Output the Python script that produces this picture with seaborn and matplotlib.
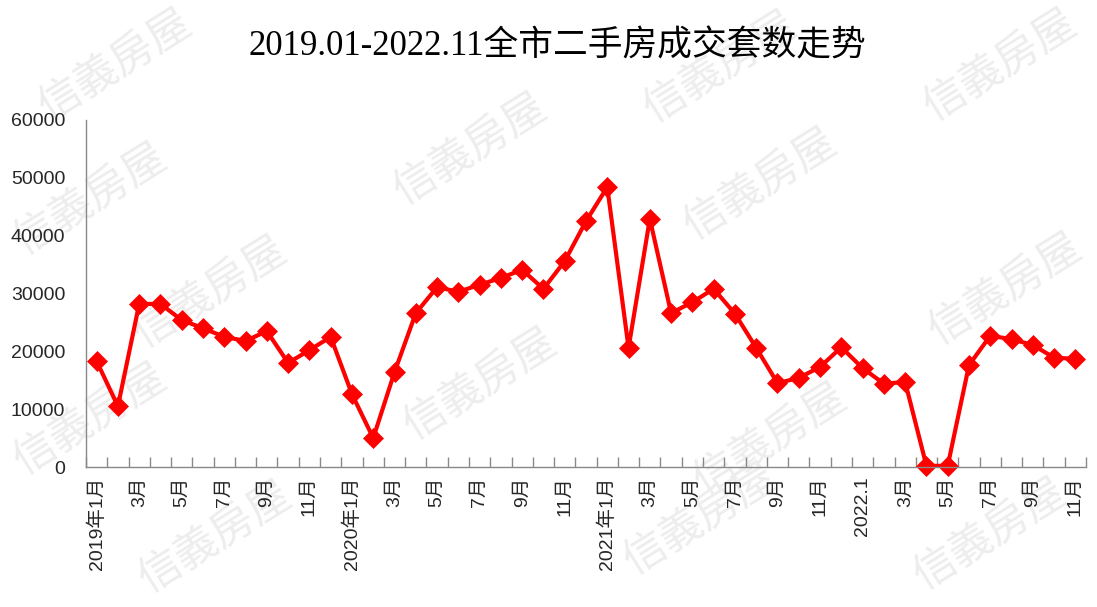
import numpy as np
import pandas as pd
import matplotlib
matplotlib.use("Agg")
import matplotlib.pyplot as plt
import seaborn as sns

# ---- data ----
months = [f"{y}-{m:02d}" for y in (2019, 2020, 2021, 2022) for m in range(1, 13)][:47]
volumes = [18300, 10500, 28200, 28200, 25400, 24000, 22500, 21800, 23500, 18000, 20200, 22500,
           12600, 5000, 16400, 26600, 31100, 30300, 31500, 32700, 34100, 30800, 35600, 42500,
           48400, 20600, 42900, 26600, 28500, 30800, 26500, 20600, 14500, 15400, 17300, 20700,
           17100, 14400, 14700, 200, 200, 17600, 22700, 22100, 21100, 18900, 18700]
tick_labels = ["2019年1月", "3月", "5月", "7月", "9月", "11月",
               "2020年1月", "3月", "5月", "7月", "9月", "11月",
               "2021年1月", "3月", "5月", "7月", "9月", "11月",
               "2022.1", "3月", "5月", "7月", "9月", "11月"]
y_ticks = [0, 10000, 20000, 30000, 40000, 50000, 60000]
title = "2019.01-2022.11全市二手房成交套数走势"
watermark = "信義房屋"

df = pd.DataFrame({"idx": np.arange(len(volumes)), "month": months, "volume": volumes})

sns.set_theme(style="white")
plt.rcParams["font.family"] = ["Liberation Sans", "Noto Sans CJK SC", "DejaVu Sans"]

fig = plt.figure(figsize=(10.97, 6.07), dpi=100)
fig.patch.set_facecolor("white")

# watermark (faint, behind the chart)
wm_centers = [(115, 66), (720, 68), (1000, 66), (470, 150), (760, 185), (1005, 290),
              (210, 293), (480, 385), (770, 440), (90, 420), (215, 538), (700, 520),
              (990, 535), (90, 200)]
for cx, cy in wm_centers:
    fig.text(cx / 1097, 1 - cy / 607, watermark, rotation=32, fontsize=31,
             color="#ededed", ha="center", va="center",
             family=["Noto Sans CJK TC", "DejaVu Sans"], zorder=0)

ax = fig.add_axes([86 / 1097, 1 - 467 / 607, 1000 / 1097, (467 - 120) / 607])
ax.set_facecolor("none")
ax.set_zorder(1)

sns.lineplot(data=df, x="idx", y="volume", ax=ax, color="#ff0000", linewidth=3,
             marker="D", markersize=10, markeredgecolor="#ff0000", markeredgewidth=0.5,
             clip_on=False)

ax.set_xlim(-0.5, len(volumes) - 0.5)
ax.set_ylim(0, 60000)
ax.set_yticks(y_ticks)
ax.set_yticklabels([str(v) for v in y_ticks], fontsize=14)
ax.tick_params(axis="y", length=0, pad=15)

ax.set_xticks(np.arange(0, len(volumes), 2))
ax.set_xticklabels(tick_labels, rotation=90, fontsize=14, va="top", ha="center")
ax.set_xticks(np.arange(-0.5, len(volumes), 1), minor=True)
ax.tick_params(axis="x", which="major", length=0, pad=7)
ax.tick_params(axis="x", which="minor", direction="in", length=7, color="#898989", width=1, bottom=True)

for s in ["top", "right"]:
    ax.spines[s].set_visible(False)
for s in ["left", "bottom"]:
    ax.spines[s].set_color("#898989")
    ax.spines[s].set_linewidth(1)
ax.set_xlabel("")
ax.set_ylabel("")
ax.grid(False)

title_txt = fig.text(557 / 1097, 1 - 47 / 607, title, fontsize=25, ha="center", va="center",
                     family=["Liberation Serif", "Noto Sans CJK SC", "DejaVu Sans"], color="black")
title_txt.set_zorder(5)

fig.savefig("out.png", dpi=100, facecolor="white")
